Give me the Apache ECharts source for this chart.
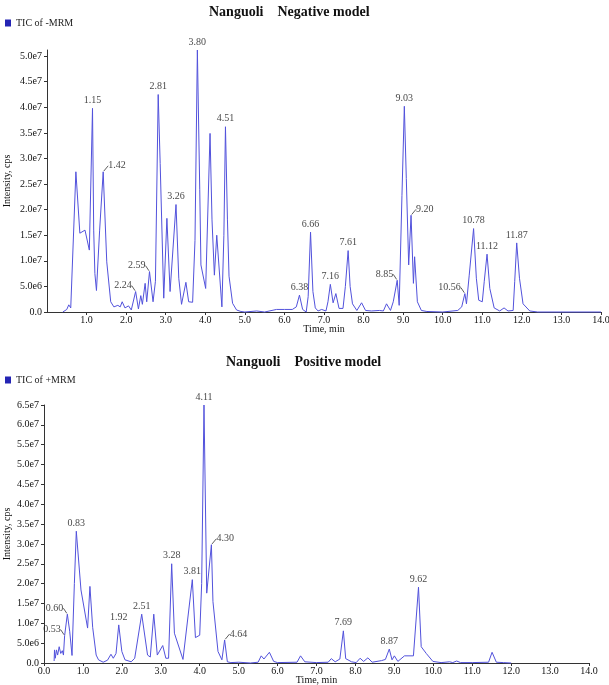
<!DOCTYPE html>
<html>
<head>
<meta charset="utf-8">
<script src="https://cdn.jsdelivr.net/npm/echarts@6/dist/echarts.min.js"></script>
<style>
  html, body { margin: 0; padding: 0; background: #fff; }
  #chart { width: 609px; height: 685px; }
</style>
</head>
<body>
<div id="chart"></div>
<script>
// intensities are in units of 1e7 cps
const SCALE = 1e7

const negTrace = [
  [0.40, 0], [0.50, 0.05], [0.55, 0.14], [0.60, 0.08], [0.65, 0.05], [0.73, 2.74],
  [0.83, 1.54], [0.96, 1.60], [1.07, 1.21], [1.15, 3.98], [1.18, 1.60], [1.21, 0.75],
  [1.25, 0.42], [1.33, 1.60], [1.42, 2.74], [1.51, 0.98], [1.61, 0.20], [1.69, 0.10],
  [1.79, 0.13], [1.85, 0.10], [1.90, 0.20], [1.97, 0.08], [2.06, 0.12], [2.13, 0.04],
  [2.24, 0.40], [2.31, 0.06], [2.37, 0.32], [2.41, 0.15], [2.48, 0.56], [2.52, 0.20],
  [2.59, 0.79], [2.68, 0.20], [2.74, 0.60], [2.81, 4.25], [2.86, 2.90], [2.95, 0.27],
  [3.03, 1.83], [3.11, 0.40], [3.26, 2.10], [3.33, 0.66], [3.40, 0.15], [3.51, 0.58],
  [3.58, 0.20], [3.68, 0.19], [3.74, 1.40], [3.80, 5.12], [3.86, 2.40], [3.89, 0.92],
  [4.01, 0.46], [4.12, 3.49], [4.17, 1.80], [4.23, 0.72], [4.29, 1.50], [4.42, 0.10],
  [4.47, 1.50], [4.51, 3.62], [4.56, 1.80], [4.60, 0.70], [4.69, 0.17], [4.79, 0.04],
  [4.90, 0.01], [5.00, 0], [5.30, 0.02], [5.50, 0], [5.80, 0.05], [6.00, 0.05],
  [6.20, 0.05], [6.30, 0.10], [6.38, 0.33], [6.46, 0.05], [6.55, 0], [6.60, 0.30],
  [6.66, 1.56], [6.72, 0.40], [6.78, 0.08], [6.85, 0.02], [6.94, 0.05], [7.05, 0.02],
  [7.10, 0.20], [7.16, 0.54], [7.23, 0.18], [7.30, 0.36], [7.38, 0.07], [7.48, 0.07],
  [7.54, 0.50], [7.61, 1.20], [7.66, 0.50], [7.72, 0.16], [7.83, 0.03], [7.95, 0.18],
  [8.05, 0.03], [8.20, 0.02], [8.40, 0.03], [8.50, 0.02], [8.58, 0.16], [8.68, 0.03],
  [8.75, 0.20], [8.85, 0.62], [8.90, 0.13], [8.97, 2.28], [9.03, 4.02], [9.08, 2.61],
  [9.14, 0.92], [9.20, 1.89], [9.26, 0.56], [9.29, 1.08], [9.36, 0.20], [9.46, 0.03],
  [9.60, 0.01], [10.00, 0], [10.38, 0.03], [10.48, 0.10], [10.56, 0.36], [10.60, 0.16],
  [10.67, 0.72], [10.78, 1.63], [10.85, 0.66], [10.91, 0.23], [11.00, 0.20], [11.05, 0.60],
  [11.12, 1.13], [11.19, 0.46], [11.30, 0.08], [11.44, 0.02], [11.55, 0.08], [11.65, 0.02],
  [11.78, 0.03], [11.82, 0.60], [11.87, 1.35], [11.94, 0.66], [12.03, 0.16], [12.20, 0.02],
  [12.40, 0], [14.00, 0]
]

const posTrace = [
  [0.26, 0.05], [0.27, 0.33], [0.29, 0.12], [0.32, 0.33], [0.35, 0.20], [0.39, 0.41],
  [0.43, 0.24], [0.47, 0.31], [0.50, 0.20], [0.53, 0.69], [0.60, 1.23], [0.66, 0.80],
  [0.72, 0.19], [0.78, 2.00], [0.83, 3.32], [0.95, 1.84], [1.12, 0.88], [1.18, 1.93],
  [1.25, 0.90], [1.34, 0.20], [1.40, 0.08], [1.52, 0.02], [1.63, 0.07], [1.72, 0.22],
  [1.78, 0.12], [1.85, 0.24], [1.92, 0.96], [2.00, 0.29], [2.08, 0.08], [2.24, 0.03],
  [2.33, 0.12], [2.51, 1.23], [2.66, 0.20], [2.73, 0.15], [2.82, 1.23], [2.91, 0.20],
  [3.05, 0.44], [3.13, 0.12], [3.20, 0.12], [3.28, 2.50], [3.35, 0.75], [3.57, 0.09],
  [3.81, 2.10], [3.89, 0.64], [4.00, 0.70], [4.05, 2.00], [4.11, 6.50], [4.18, 1.76],
  [4.30, 2.98], [4.34, 1.55], [4.47, 0.29], [4.57, 0.08], [4.64, 0.58], [4.71, 0.03],
  [4.80, 0.01], [5.00, 0.02], [5.30, 0], [5.50, 0.02], [5.58, 0.18], [5.65, 0.10],
  [5.79, 0.27], [5.90, 0.04], [6.00, 0.01], [6.50, 0.02], [6.59, 0.18], [6.70, 0.03],
  [7.00, 0.01], [7.30, 0.02], [7.38, 0.11], [7.48, 0.03], [7.60, 0.10], [7.69, 0.81],
  [7.75, 0.11], [7.90, 0.03], [8.02, 0.01], [8.12, 0.12], [8.21, 0.04], [8.32, 0.13],
  [8.43, 0.02], [8.67, 0.06], [8.77, 0.09], [8.87, 0.35], [8.94, 0.08], [9.00, 0.18],
  [9.09, 0.04], [9.26, 0.18], [9.49, 0.18], [9.62, 1.91], [9.69, 0.41], [9.82, 0.24],
  [9.99, 0.04], [10.20, 0.01], [10.42, 0.03], [10.50, 0.01], [10.60, 0.05], [10.70, 0.01],
  [11.00, 0.01], [11.42, 0.02], [11.51, 0.27], [11.62, 0.02], [11.80, 0.01], [12.00, 0]
]

const negPeaks = [1.15, 1.42, 2.24, 2.59, 2.81, 3.26, 3.80, 4.51, 6.38, 6.66, 7.16, 7.61,
  8.85, 9.03, 9.20, 10.56, 10.78, 11.12, 11.87]
const posPeaks = [0.53, 0.60, 0.83, 1.92, 2.51, 3.28, 3.81, 4.11, 4.30, 4.64, 7.69, 8.87, 9.62]

// peaks whose label sits beside the peak with a short leader line
const leftLabels = ['2.24', '2.59', '8.85', '10.56', '0.53', '0.60']
const rightLabels = ['1.42', '9.20', '4.30', '4.64']

const negYTicks = [0, 5e6, 1e7, 1.5e7, 2e7, 2.5e7, 3e7, 3.5e7, 4e7, 4.5e7, 5e7]
const posYTicks = [0, 5e6, 1e7, 1.5e7, 2e7, 2.5e7, 3e7, 3.5e7, 4e7, 4.5e7, 5e7, 5.5e7, 6e7, 6.5e7]

const FONT = 'Liberation Serif'
const LINE_COLOR = '#5252dc'

const toSeries = (trace) => trace.map(d => [d[0], d[1] * SCALE])
const peakPoints = (trace, peaks) => peaks.map(p => {
  const pt = trace.find(d => d[0] === p)
  const name = p.toFixed(2)
  const side = leftLabels.includes(name) || rightLabels.includes(name)
  return { name, value: [p, pt[1] * SCALE], labelLine: { show: side } }
})

const sciLabel = (v) => {
  if (v === 0) return '0.0'
  const e = Math.floor(Math.log10(v) + 1e-9)
  return (v / Math.pow(10, e)).toFixed(1) + 'e' + e
}

const makeXAxis = (gridIndex, showMin) => ({
  type: 'value',
  gridIndex,
  min: 0,
  max: 14,
  interval: 1,
  name: 'Time, min',
  nameLocation: 'middle',
  nameGap: 12,
  nameMoveOverlap: false,
  nameTextStyle: { fontFamily: FONT, fontSize: 10, color: '#111' },
  axisLine: { lineStyle: { color: '#333' } },
  axisTick: { length: 3, lineStyle: { color: '#333' } },
  splitLine: { show: false },
  axisLabel: {
    fontFamily: FONT, fontSize: 10, color: '#111', margin: 3,
    showMinLabel: showMin,
    formatter: v => v.toFixed(1)
  }
})

const makeYAxis = (gridIndex, max, ticks, gap) => ({
  type: 'value',
  gridIndex,
  min: 0,
  max,
  name: 'Intensity, cps',
  nameLocation: 'middle',
  nameGap: gap,
  nameMoveOverlap: false,
  nameTextStyle: { fontFamily: FONT, fontSize: 10, color: '#111' },
  axisLine: { show: true, lineStyle: { color: '#333' } },
  axisTick: { show: true, length: 3, customValues: ticks, lineStyle: { color: '#333' } },
  splitLine: { show: false },
  axisLabel: {
    fontFamily: FONT, fontSize: 10, color: '#111', margin: 5,
    customValues: ticks,
    formatter: sciLabel
  }
})

const lineSeries = (name, idx, trace) => ({
  name,
  type: 'line',
  xAxisIndex: idx,
  yAxisIndex: idx,
  data: toSeries(trace),
  showSymbol: false,
  clip: false,
  lineStyle: { width: 1, color: LINE_COLOR },
  itemStyle: { color: LINE_COLOR },
  z: 2
})

const peakSeries = (idx, trace, peaks) => ({
  type: 'scatter',
  xAxisIndex: idx,
  yAxisIndex: idx,
  data: peakPoints(trace, peaks),
  symbolSize: 2,
  itemStyle: { color: 'rgba(0,0,0,0)' },
  silent: true,
  clip: false,
  label: {
    show: true,
    position: 'top',
    distance: 2,
    fontFamily: FONT,
    fontSize: 10,
    color: '#111',
    formatter: '{b}'
  },
  labelLine: { length2: 0, minTurnAngle: 0, lineStyle: { color: '#333', width: 0.8 } },
  labelLayout: (params) => {
    const px = params.rect.x + params.rect.width / 2
    const py = params.rect.y + params.rect.height / 2
    if (leftLabels.includes(params.text)) {
      return { x: px - 4, y: py - 1, align: 'right', verticalAlign: 'bottom' }
    }
    if (rightLabels.includes(params.text)) {
      return { x: px + 5, y: py - 1, align: 'left', verticalAlign: 'bottom' }
    }
    return {}
  },
  z: 3
})

const chart = echarts.init(document.getElementById('chart'))

chart.setOption({
  animation: false,
  backgroundColor: '#fff',
  title: [
    {
      text: 'Nanguoli    Negative model',
      left: 204, top: 0,
      textStyle: { fontFamily: FONT, fontSize: 14, fontWeight: 'bold', color: '#111' }
    },
    {
      text: 'Nanguoli    Positive model',
      left: 221, top: 350,
      textStyle: { fontFamily: FONT, fontSize: 14, fontWeight: 'bold', color: '#111' }
    }
  ],
  legend: [
    {
      data: [{ name: 'TIC of -MRM', itemStyle: { color: '#2424b4' } }],
      left: 5, top: 18, padding: 0,
      icon: 'rect', itemWidth: 6, itemHeight: 7, itemGap: 5,
      textStyle: { fontFamily: FONT, fontSize: 10, color: '#222' }
    },
    {
      data: [{ name: 'TIC of +MRM', itemStyle: { color: '#2424b4' } }],
      left: 5, top: 375, padding: 0,
      icon: 'rect', itemWidth: 6, itemHeight: 7, itemGap: 5,
      textStyle: { fontFamily: FONT, fontSize: 10, color: '#222' }
    }
  ],
  grid: [
    { left: 47, right: 8, top: 50, height: 262, outerBoundsMode: 'none' },
    { left: 44, right: 20, top: 405, height: 258, outerBoundsMode: 'none' }
  ],
  xAxis: [makeXAxis(0, false), makeXAxis(1, true)],
  yAxis: [makeYAxis(0, 5.12e7, negYTicks, 35), makeYAxis(1, 6.5e7, posYTicks, 32)],
  series: [
    lineSeries('TIC of -MRM', 0, negTrace),
    lineSeries('TIC of +MRM', 1, posTrace),
    peakSeries(0, negTrace, negPeaks),
    peakSeries(1, posTrace, posPeaks)
  ]
})
</script>
</body>
</html>
